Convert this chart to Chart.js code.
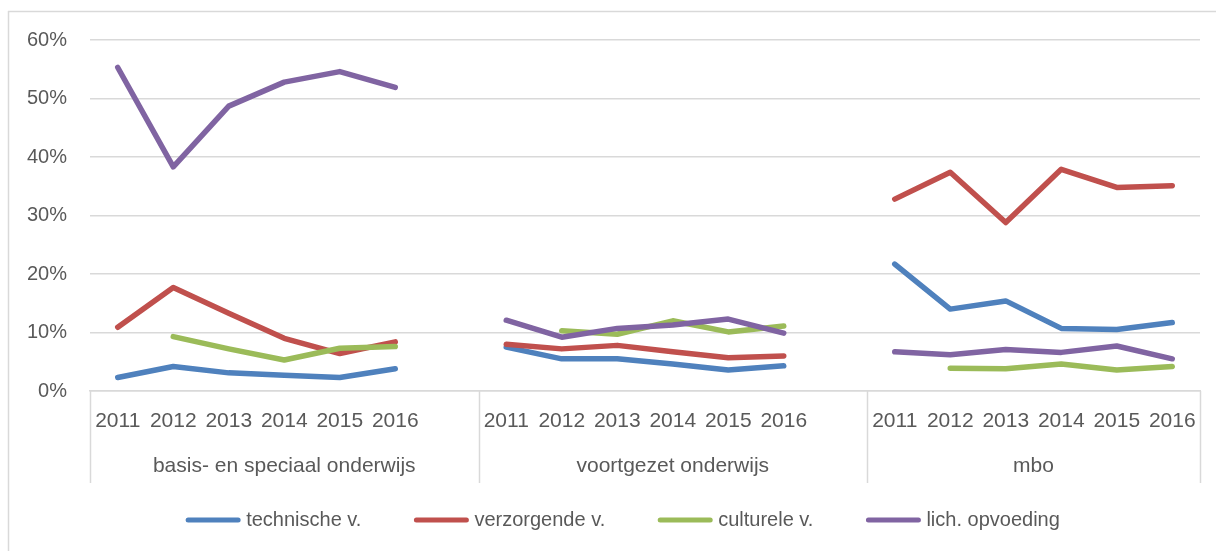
<!DOCTYPE html>
<html>
<head>
<meta charset="utf-8">
<script src="https://cdn.jsdelivr.net/npm/chart.js@4/dist/chart.umd.min.js"></script>
<style>
  html, body { margin: 0; background: #fff; }
  #wrap { width: 1216px; height: 551px; position: relative; }
</style>
</head>
<body>
<div id="wrap"><canvas id="canvas"></canvas></div>
<script>
// categories: three school types, 6 years each, with an empty spacer between groups
const years = ['2011', '2012', '2013', '2014', '2015', '2016'];
const groups = ['basis- en speciaal onderwijs', 'voortgezet onderwijs', 'mbo'];
const groupSpans = [7, 7, 6];
const categories = [...years, '', ...years, '', ...years];

// values in percent (null = no value / spacer)
const technische  = [2.3, 4.2, 3.1, 2.7, 2.3, 3.8, null, 7.5, 5.5, 5.5, 4.6, 3.6, 4.3, null, 21.7, 14.0, 15.4, 10.7, 10.5, 11.7];
const verzorgende = [10.9, 17.7, 13.3, 9.0, 6.4, 8.4, null, 8.0, 7.2, 7.8, 6.7, 5.7, 6.0, null, 32.8, 37.4, 28.8, 37.9, 34.8, 35.1];
const culturele   = [null, 9.3, 7.2, 5.3, 7.3, 7.6, null, null, 10.3, 9.7, 12.0, 10.1, 11.1, null, null, 3.9, 3.8, 4.6, 3.6, 4.2];
const lichOpv     = [55.3, 38.3, 48.7, 52.8, 54.6, 51.9, null, 12.1, 9.2, 10.7, 11.3, 12.3, 9.9, null, 6.7, 6.2, 7.1, 6.6, 7.7, 5.5];

const yTicks = [0, 10, 20, 30, 40, 50, 60];

const FONT = "'Liberation Sans', Arial, sans-serif";
const TEXT = '#595959';
const GRID = '#d9d9d9';

function line(label, data, color, order) {
    return {
        label: label,
        data: data,
        borderColor: color,
        backgroundColor: color,
        borderWidth: 5.5,
        pointRadius: 0,
        pointHoverRadius: 0,
        tension: 0,
        spanGaps: false,
        borderCapStyle: 'round',
        borderJoinStyle: 'round',
        order: order
    };
}

// group separators, group names, custom legend and the outer frame
const groupAxis = {
    id: 'groupAxis',
    afterDraw(chart) {
        const ctx = chart.ctx;
        const area = chart.chartArea;
        const x = chart.scales.x;
        const per = (area.right - area.left) / categories.length;

        ctx.save();
        ctx.strokeStyle = GRID;
        ctx.lineWidth = 1.5;

        // outer frame (left + top)
        ctx.beginPath();
        ctx.moveTo(8.5, 11);
        ctx.lineTo(8.5, chart.height);
        ctx.moveTo(8, 11.5);
        ctx.lineTo(chart.width, 11.5);
        ctx.stroke();

        // separators
        let idx = 0;
        const bounds = [x.left];
        groupSpans.forEach(function (n) {
            idx += n;
            bounds.push(x.left + per * idx);
        });
        ctx.beginPath();
        bounds.forEach(function (b) {
            const px = Math.round(b) + 0.5;
            ctx.moveTo(px, area.bottom);
            ctx.lineTo(px, area.bottom + 92);
        });
        ctx.stroke();

        // group labels
        ctx.fillStyle = TEXT;
        ctx.font = '21px ' + FONT;
        ctx.textAlign = 'center';
        ctx.textBaseline = 'middle';
        groups.forEach(function (g, i) {
            ctx.fillText(g, (bounds[i] + bounds[i + 1]) / 2, area.bottom + 75);
        });

        // legend
        ctx.font = '20px ' + FONT;
        const sw = 54, gapTxt = 6, gapItem = 53, ly = 520;
        const items = chart.data.datasets.map(function (ds) {
            return { text: ds.label, color: ds.borderColor, w: sw + gapTxt + ctx.measureText(ds.label).width };
        });
        const total = items.reduce(function (s, it) { return s + it.w; }, 0) + gapItem * (items.length - 1);
        let lx = chart.width / 2 + 15 - total / 2;
        ctx.textAlign = 'left';
        items.forEach(function (it) {
            ctx.strokeStyle = it.color;
            ctx.lineWidth = 5;
            ctx.lineCap = 'round';
            ctx.beginPath();
            ctx.moveTo(lx + 2, ly);
            ctx.lineTo(lx + sw - 2, ly);
            ctx.stroke();
            ctx.fillStyle = TEXT;
            ctx.fillText(it.text, lx + sw + gapTxt, ly);
            lx += it.w + gapItem;
        });
        ctx.restore();
    }
};

const ctx = document.getElementById('canvas').getContext('2d');
const chart = new Chart(ctx, {
    type: 'line',
    data: {
        labels: categories,
        datasets: [
            line('technische v.', technische, '#4f81bd', 4),
            line('verzorgende v.', verzorgende, '#c0504d', 3),
            line('culturele v.', culturele, '#9bbb59', 2),
            line('lich. opvoeding', lichOpv, '#8064a2', 1)
        ]
    },
    options: {
        responsive: true,
        maintainAspectRatio: false,
        animation: false,
        layout: { padding: { top: 40, left: 0, right: 16, bottom: 68 } },
        plugins: {
            legend: { display: false },
            tooltip: { enabled: false }
        },
        scales: {
            x: {
                offset: true,
                grid: { display: false, drawTicks: false },
                border: { display: true, color: GRID, width: 1.5 },
                ticks: {
                    autoSkip: false,
                    maxRotation: 0,
                    padding: 18,
                    color: TEXT,
                    font: { family: FONT, size: 21 }
                },
                afterFit: function (scale) { scale.height = 92; }
            },
            y: {
                min: 0,
                max: 60,
                afterBuildTicks: function (scale) {
                    scale.ticks = yTicks.map(function (v) { return { value: v }; });
                },
                grid: { color: GRID, lineWidth: 1.5, drawTicks: false },
                border: { display: false },
                ticks: {
                    padding: 23,
                    color: TEXT,
                    font: { family: FONT, size: 20 },
                    callback: function (v) { return v + '%'; }
                },
                afterFit: function (scale) { scale.width = 90; }
            }
        }
    },
    plugins: [groupAxis]
});
</script>
</body>
</html>
